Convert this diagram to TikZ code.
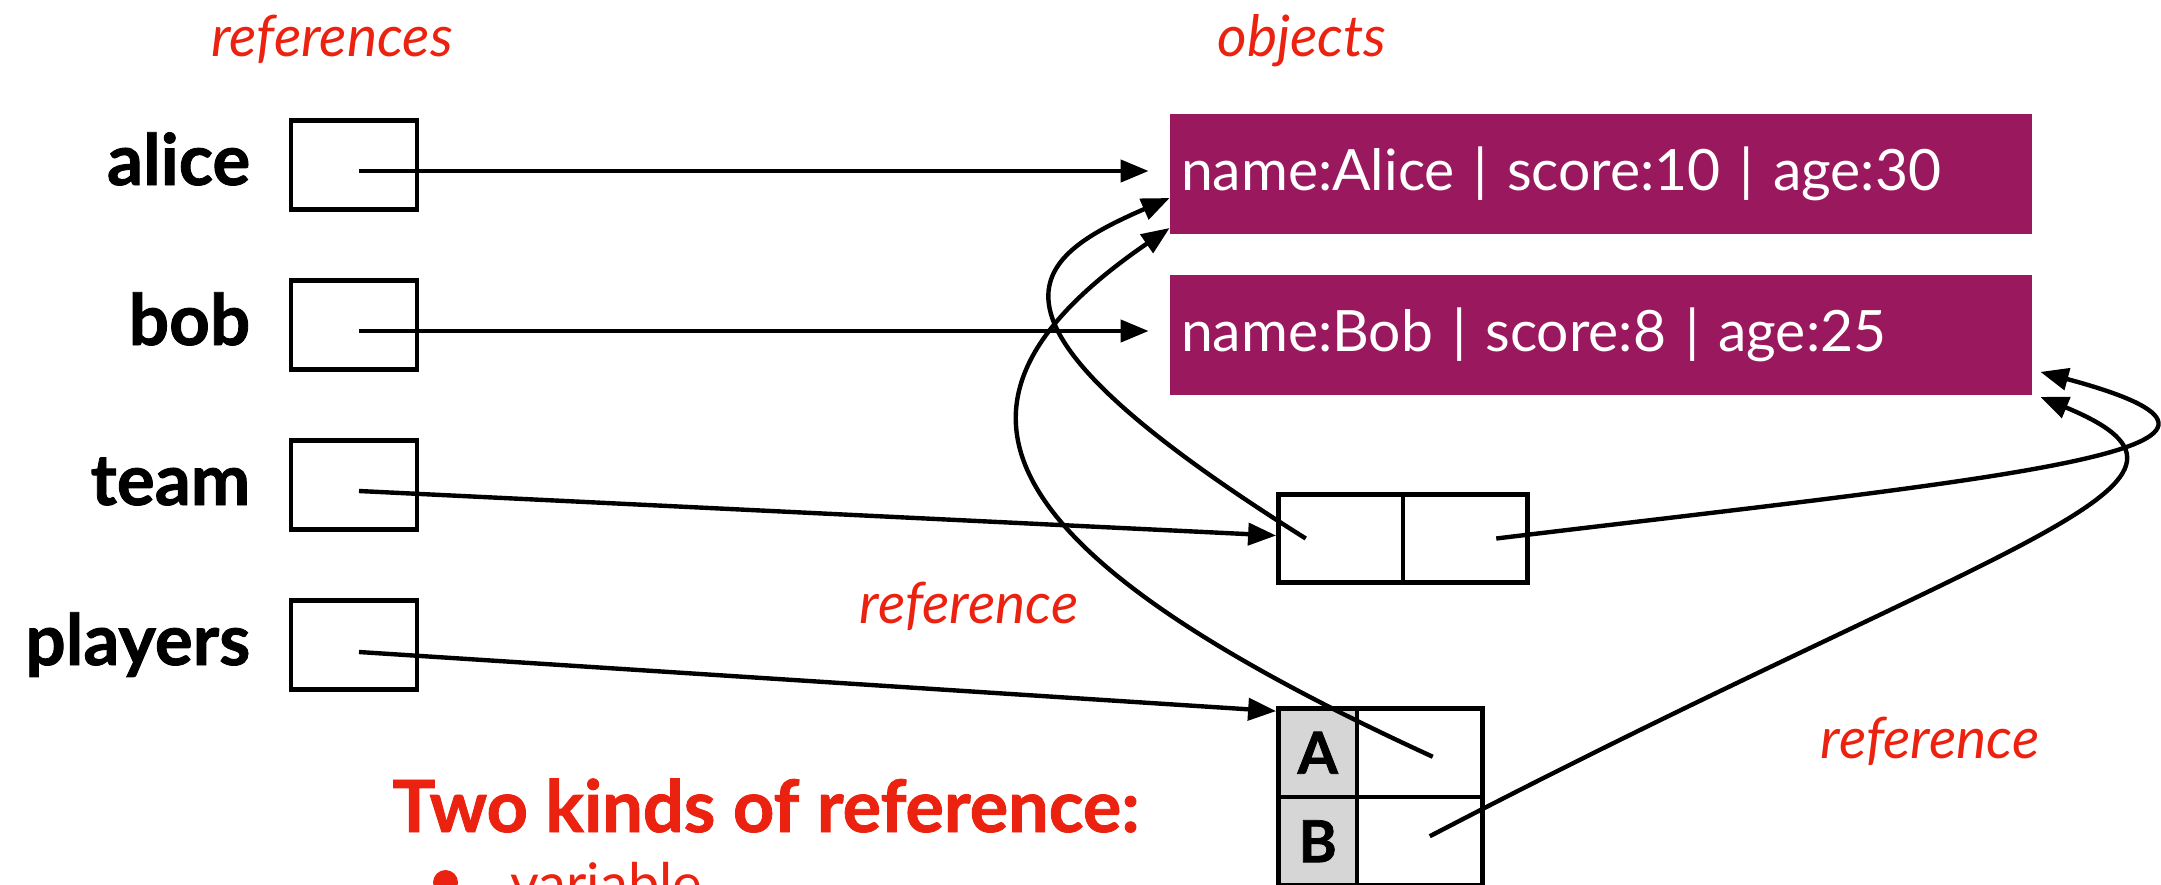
\documentclass[tikz,border=0pt]{standalone}
\usepackage{fontspec}
\setmainfont{Lato}
\newfontfamily\heavyfont{Lato}[BoldFeatures={FakeBold=1.2}]
\usetikzlibrary{arrows.meta,calc}
\definecolor{objpurple}{RGB}{154,25,94}
\definecolor{annred}{RGB}{236,34,16}
\definecolor{cellgray}{RGB}{214,214,214}
\begin{document}
\begin{tikzpicture}[x=0.5pt,y=-0.5pt,
  refbox/.style={draw,line width=2.4pt,minimum width=63pt,minimum height=44.5pt,inner sep=0pt},
  varlabel/.style={anchor=base east,font=\fontsize{35.5}{36}\heavyfont\bfseries,inner sep=0pt},
  objbox/.style={fill=objpurple,text=white,minimum width=431pt,minimum height=60pt,text width=420pt,inner xsep=5.5pt,inner ysep=0pt,align=left,font=\fontsize{28.5}{30}\selectfont},
  cell/.style={draw,line width=2.4pt,minimum height=44.25pt,inner sep=0pt},
  lettercell/.style={cell,fill=cellgray,minimum width=39.25pt,font=\fontsize{29}{29}\heavyfont\bfseries},
  note/.style={text=annred,font=\fontsize{28.5}{29}\selectfont\itshape,anchor=base,inner sep=0pt},
  link/.style={line width=2.2pt,-{Triangle[length=14pt,width=11pt]}},
]
\useasboundingbox (0,0) rectangle (2161,884);
\clip (0,0) rectangle (2161,884);
% headings
\node[note] (hrefs) at (332,56) {references};
\node[note] (hobjs) at (1302,56) {objects};
% reference boxes
\node[refbox] (alice) at (354,165) {};
\node[refbox] (bob) at (354,325) {};
\node[refbox] (team) at (354,485) {};
\node[refbox] (players) at (354,645) {};
\node[varlabel] (lalice) at ($(alice.west)+(-38,20)$) {alice};
\node[varlabel] (lbob) at ($(bob.west)+(-38,20)$) {bob};
\node[varlabel] (lteam) at ($(team.west)+(-38,20)$) {team};
\node[varlabel] (lplayers) at ($(players.west)+(-38,20)$) {players};
% objects
\node[objbox] (objA) at (1601,174) {name:Alice | score:10 | age:30};
\node[objbox] (objB) at (1601,334.5) {name:Bob | score:8 | age:25};
% team list
\node[cell,minimum width=62.25pt] (teamL) at (1340.75,538.5) {};
\node[cell,minimum width=62.25pt] (teamR) at (1465.25,538.5) {};
% players table
\node[lettercell] (Alab) at (1317.75,752.75) {A};
\node[cell,minimum width=62.75pt] (Aval) at (1419.75,752.75) {};
\node[lettercell] (Blab) at (1317.75,841.25) {B};
\node[cell,minimum width=62.75pt] (Bval) at (1419.75,841.25) {};
% notes
\node[note] (n1) at (969,623) {reference};
\node[note] (n2) at (1930,758) {reference};
\node[anchor=base west,inner sep=0pt,text=annred,font=\fontsize{36}{36}\heavyfont\bfseries] (kinds) at (392,832) {Two kinds of reference:};
\node[circle,fill=annred,minimum size=12.5pt,inner sep=0pt] (bul) at (445.5,882.5) {};
\node[anchor=base west,inner sep=0pt,text=annred,font=\fontsize{28}{28}\selectfont] (var) at (510,903) {variable};
% connector end points
\coordinate (tl) at ($(teamL.center)+(-35,0)$);
\coordinate (tr) at ($(teamR.center)+(31,0)$);
\coordinate (ap) at ($(Aval.center)+(13,4)$);
\coordinate (bp) at ($(Bval.center)+(10,-5)$);
% straight references
\draw[link] ($(alice.center)+(5,6)$) -- ($(objA.west)+(-21,-3)$);
\draw[link] ($(bob.center)+(5,6)$) -- ($(objB.west)+(-21,-3.5)$);
\draw[link] ($(team.center)+(5,6)$) -- ($(teamL.west)+(0,-3)$);
\draw[link] ($(players.center)+(5,7)$) -- ($(Alab.north west)+(0,5)$);
% curved references
\draw[link] (tl) .. controls +(-356,-223.4) and +(-137.4,60) .. ($(objA.west)+(0,24)$);
\draw[link] (ap) .. controls +(-480,-220) and +(-239,164) .. ($(objA.west)+(0,54)$);
\draw[link] (tr) .. controls +(496.5,-60) and +(289.8,77.7) .. ($(objB.south east)+(8,-23)$);
\draw[link] (bp) .. controls +(576.6,-300.3) and +(212.5,87.9) .. ($(objB.south east)+(8,2)$);
\end{tikzpicture}
\end{document}
